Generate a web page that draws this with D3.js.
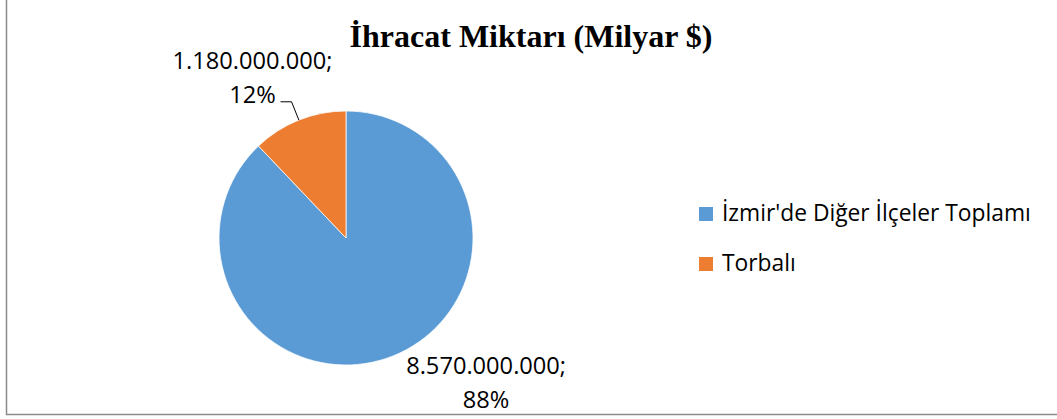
<!DOCTYPE html>
<html>
<head>
<meta charset="utf-8">
<script src="https://cdn.jsdelivr.net/npm/d3@7"></script>
<style>
  body { margin: 0; background: #fff; }
  svg { display: block; }
  .lbl { font-family: "Open Sans", Lato, sans-serif; fill: #000; }
</style>
</head>
<body>
<svg id="chart" width="1057" height="419"></svg>
<script>
// chart data
const categories = ["İzmir'de Diğer İlçeler Toplamı", "Torbalı"];
const values = [8570000000, 1180000000];
const valueLabels = ["8.570.000.000;", "1.180.000.000;"];
const percentLabels = ["88%", "12%"];
const colors = ["#5B9BD5", "#ED7D31"];

const width = 1057, height = 419;
const svg = d3.select("#chart");

// pick a font size so that a sample string is about as wide as in the picture
function fitSize(str, target, cls) {
    let t = svg.append("text").attr("class", cls).style("font-size", "20px").text(str);
    let w = t.node().getComputedTextLength();
    t.remove();
    return 20 * target / w;
}
const labelSize = fitSize(valueLabels[0], 160, "lbl");
const legendSize = fitSize(categories[0], 309, "lbl");

// chart frame (only left and bottom edges show in the picture)
svg.append("rect")
   .attr("x", 6.5).attr("y", -5)
   .attr("width", 1060).attr("height", 419.5)
   .attr("fill", "none")
   .attr("stroke", "#8a8a8a")
   .attr("stroke-width", 1.5);

// title
svg.append("text")
   .attr("x", 531).attr("y", 47)
   .attr("text-anchor", "middle")
   .style("font-family", "'Liberation Serif', 'Times New Roman', serif")
   .style("font-weight", "bold")
   .style("font-size", "32px")
   .text("İhracat Miktarı (Milyar $)");

const cx = 346, cy = 238, r = 127;
const pie = d3.pie().sort(null).value(d => d)(values);
const arc = d3.arc().innerRadius(0).outerRadius(r);

const g = svg.append("g").attr("transform", `translate(${cx},${cy})`);
g.selectAll("path")
 .data(pie)
 .enter()
 .append("path")
 .attr("d", arc)
 .attr("fill", (d, i) => colors[i])
 .attr("stroke", "#fff")
 .attr("stroke-width", 0.75);

// data labels
function midPoint(d, k) {
    let a = (d.startAngle + d.endAngle) / 2;
    return [Math.sin(a) * r * k, -Math.cos(a) * r * k];
}

// blue slice: label sits outside bottom-right, no leader line
let p0 = midPoint(pie[0], 1);
let lb = g.append("text").attr("class", "lbl")
          .attr("text-anchor", "middle")
          .style("font-size", labelSize + "px");
lb.append("tspan").attr("x", p0[0] + 93).attr("y", p0[1] + 18).text(valueLabels[0]);
lb.append("tspan").attr("x", p0[0] + 93).attr("y", p0[1] + 52).text(percentLabels[0]);

// orange slice: label top-left with leader line
let p1 = midPoint(pie[1], 1);
let e1 = midPoint(pie[1], 1.155);
g.append("polyline")
 .attr("points", [[e1[0] - 11, e1[1]], e1, p1].map(p => p.join(",")).join(" "))
 .attr("fill", "none")
 .attr("stroke", "#000")
 .attr("stroke-width", 1);
let lt = g.append("text").attr("class", "lbl")
          .attr("text-anchor", "middle")
          .style("font-size", labelSize + "px");
lt.append("tspan").attr("x", e1[0] - 39).attr("y", e1[1] - 33).text(valueLabels[1]);
lt.append("tspan").attr("x", e1[0] - 39).attr("y", e1[1] + 1).text(percentLabels[1]);

// legend
const legend = svg.append("g").attr("transform", "translate(699,207)");
const item = legend.selectAll("g")
    .data(categories)
    .enter()
    .append("g")
    .attr("transform", (d, i) => `translate(0,${i * 50})`);
item.append("rect")
    .attr("width", 14).attr("height", 14)
    .attr("fill", (d, i) => colors[i]);
item.append("text")
    .attr("class", "lbl")
    .attr("x", 23).attr("y", 14)
    .style("font-size", legendSize + "px")
    .text(d => d);
</script>
</body>
</html>
